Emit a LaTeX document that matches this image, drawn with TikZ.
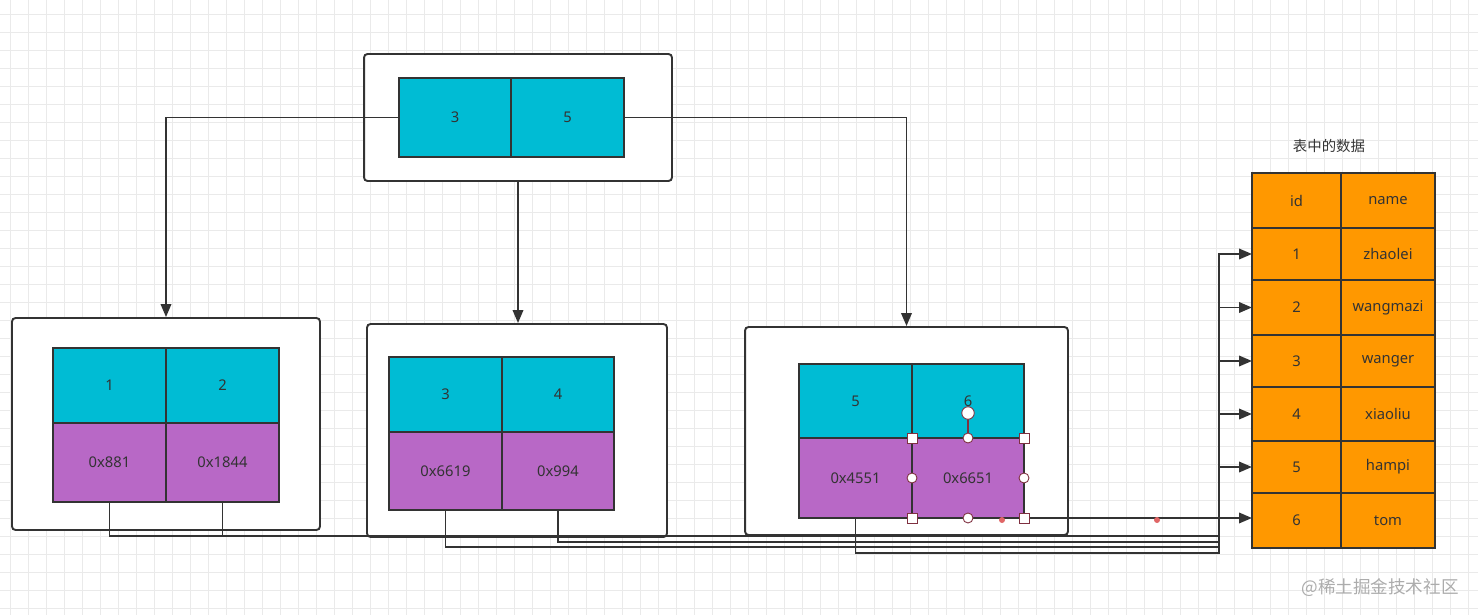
\documentclass[tikz,border=0pt]{standalone}
\usepackage{fontspec}
\setmainfont{Noto Sans}
\newfontfamily\cjkfont{Noto Sans CJK SC}
\usetikzlibrary{arrows.meta}
\definecolor{keycyan}{HTML}{00BCD4}
\definecolor{ptrpurple}{HTML}{B868C6}
\definecolor{roworange}{HTML}{FF9800}
\definecolor{inkgray}{HTML}{333333}
\definecolor{gridgray}{HTML}{EAEAEA}
\definecolor{handlered}{HTML}{7F3040}
\definecolor{dotred}{HTML}{E06666}
\tikzset{
  cellbox/.style={draw=inkgray, line width=1.1pt, inner sep=0pt, outer sep=0pt, text=inkgray, font=\fontsize{8.4}{10}\selectfont},
  keycell/.style={cellbox, fill=keycyan},
  ptrcell/.style={cellbox, fill=ptrpurple},
  rowcell/.style={cellbox, fill=roworange},
  pagebox/.style={draw=inkgray, line width=1.1pt, fill=white, rounded corners=0.07cm, inner sep=0pt},
  link/.style={draw=inkgray, line width=1.1pt, -{Triangle[length=0.26cm,width=0.21cm]}},
  gridline/.style={draw=gridgray, line width=0.45pt},
  sqhandle/.style={draw=handlered, fill=white, line width=0.5pt, minimum size=0.2cm, inner sep=0pt},
  cirhandle/.style={sqhandle, circle},
}
\begin{document}
\begin{tikzpicture}[x=0.02cm, y=-0.02cm]
\useasboundingbox[fill=white] (0,0) rectangle (1478,615);
% background grid
\foreach \gx in {10,28,...,1478} \draw[gridline] (\gx,0) -- (\gx,615);
\foreach \gy in {14,32,...,615} \draw[gridline] (0,\gy) -- (1478,\gy);

% root page
\node[pagebox, minimum width=6.16cm, minimum height=2.54cm] (root) at (518,117.5) {};
\node[keycell, minimum width=2.24cm, minimum height=1.58cm] (k3) at (455,117.5) {3};
\node[keycell, minimum width=2.26cm, minimum height=1.58cm] (k5) at (567.5,117.5) {5};

% leaf pages
\node[pagebox, minimum width=6.16cm, minimum height=4.24cm] (leafA) at (166,424) {};
\node[keycell, minimum width=2.26cm, minimum height=1.5cm] (k1) at (109.5,385.5) {1};
\node[keycell, minimum width=2.26cm, minimum height=1.5cm] (k2) at (222.5,385.5) {2};
\node[ptrcell, minimum width=2.26cm, minimum height=1.58cm] (p881) at (109.5,462.5) {0x881};
\node[ptrcell, minimum width=2.26cm, minimum height=1.58cm] (p1844) at (222.5,462.5) {0x1844};

\node[pagebox, minimum width=6.0cm, minimum height=4.26cm] (leafB) at (517,430.5) {};
\node[keycell, minimum width=2.26cm, minimum height=1.5cm] (k3b) at (445.5,394.5) {3};
\node[keycell, minimum width=2.24cm, minimum height=1.5cm] (k4) at (558,394.5) {4};
\node[ptrcell, minimum width=2.26cm, minimum height=1.56cm] (p6619) at (445.5,471) {0x6619};
\node[ptrcell, minimum width=2.24cm, minimum height=1.56cm] (p994) at (558,471) {0x994};

\node[pagebox, minimum width=6.46cm, minimum height=4.16cm] (leafC) at (906.5,431) {};
\node[keycell, minimum width=2.26cm, minimum height=1.48cm] (k5b) at (855.5,401) {5};
\node[keycell, minimum width=2.24cm, minimum height=1.48cm] (k6) at (968,401) {6};
\node[ptrcell, minimum width=2.26cm, minimum height=1.6cm] (p4551) at (855.5,478) {0x4551};
\node[ptrcell, minimum width=2.24cm, minimum height=1.6cm] (p6651) at (968,478) {0x6651};

% table rows
\node[text=inkgray, font=\cjkfont\fontsize{8.2}{10}\selectfont] (title) at (1329,146) {表中的数据};
\node[rowcell, minimum width=1.78cm, minimum height=1.1cm] (hid) at (1296.5,200.5) {id};
\node[rowcell, minimum width=1.88cm, minimum height=1.1cm] (hname) at (1388,200.5) {name};
\foreach \i/\nm/\yc/\h in {1/zhaolei/254/1.04, 2/wangmazi/307.5/1.1, 3/wanger/361/1.04,
    4/xiaoliu/414/1.08, 5/hampi/467/1.04, 6/tom/520.5/1.1} {
  \node[rowcell, minimum width=1.78cm, minimum height=\h cm] (r\i) at (1296.5,\yc) {\i};
  \node[rowcell, minimum width=1.88cm, minimum height=\h cm] (n\i) at (1388,\yc) {\nm};
}

% tree links
\draw[link] (k3.west) -| (leafA.north);
\draw[link] (root.south) -- (root.south |- leafB.north);
\draw[link] (k5.east) -| (leafC.north);

% pointers to rows
\coordinate (busA) at (1219,536);
\coordinate (busB) at (1219,547);
\coordinate (busC) at (1219,542);
\coordinate (busD) at (1219,553);
\draw[link] (p881.south) |- (busA) |- (r1.west);
\draw[link] (p1844.south) |- (busA) |- (r2.west);
\draw[link] (p6619.south) |- (busB) |- (r3.west);
\draw[link] (p994.south) |- (busC) |- (r4.west);
\draw[link] (p4551.south) |- (busD) |- (r5.west);
\draw[link] (p6651.south) -- (p6651.south -| r6.west);

% selection handles
\draw[handlered, line width=0.6pt] (p6651.north) -- ++(0,-25) node[cirhandle, minimum size=0.25cm] (rot) {};
\foreach \c in {north west, north east, south west, south east}
  \node[sqhandle] at (p6651.\c) {};
\foreach \c in {north, south, west, east}
  \node[cirhandle] at (p6651.\c) {};
\fill[dotred] (1002,520) circle (0.06cm);
\fill[dotred] (1157,520) circle (0.06cm);

\node[font=\cjkfont\fontsize{10}{12}\selectfont, text=gray!65] (mark) at (1380,588) {@稀土掘金技术社区};
\end{tikzpicture}
\end{document}
